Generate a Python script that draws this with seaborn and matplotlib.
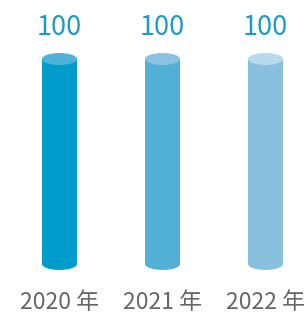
import numpy as np
import pandas as pd
import matplotlib
matplotlib.use("Agg")
import matplotlib.pyplot as plt
import seaborn as sns
from matplotlib.patches import Ellipse

# ─── DATA ───────────────────────────────────────────
years = ["2020 年", "2021 年", "2022 年"]
values = [100, 100, 100]
body_colors = ["#009ccb", "#52afd6", "#89c0de"]
top_colors = ["#4fb2d9", "#8ac2e0", "#b9daec"]

df = pd.DataFrame({"year": years, "value": values})

sns.set_style("white")
plt.rcParams['font.family'] = ['Noto Sans CJK SC', 'DejaVu Sans']

fig = plt.figure(figsize=(3.06, 3.15), dpi=100)
ax = fig.add_axes([0, 0, 1, 1])

bar_w = 0.34
sns.barplot(data=df, x="year", y="value", hue="year", palette=body_colors,
            width=bar_w, legend=False, ax=ax, saturation=1, linewidth=0)

ax.set_xlim(-0.578, 2.393)
ax.set_ylim(-24.9, 128.8)

# ellipse height in data units (~12px)
ell_h = 5.85
for i, v in enumerate(values):
    ax.add_patch(Ellipse((i, 0), bar_w, ell_h, color=body_colors[i], lw=0, zorder=3))
    ax.add_patch(Ellipse((i, v), bar_w, ell_h, color=top_colors[i], lw=0, zorder=4))
    ax.text(i, v + 15.4, str(v), ha="center", va="center", fontsize=19.5,
            color="#1a9bcb")
    ax.text(i, -18.6, years[i], ha="center", va="center", fontsize=16.5,
            color="#666666")

ax.set_axis_off()
fig.savefig("out.png", dpi=100)
